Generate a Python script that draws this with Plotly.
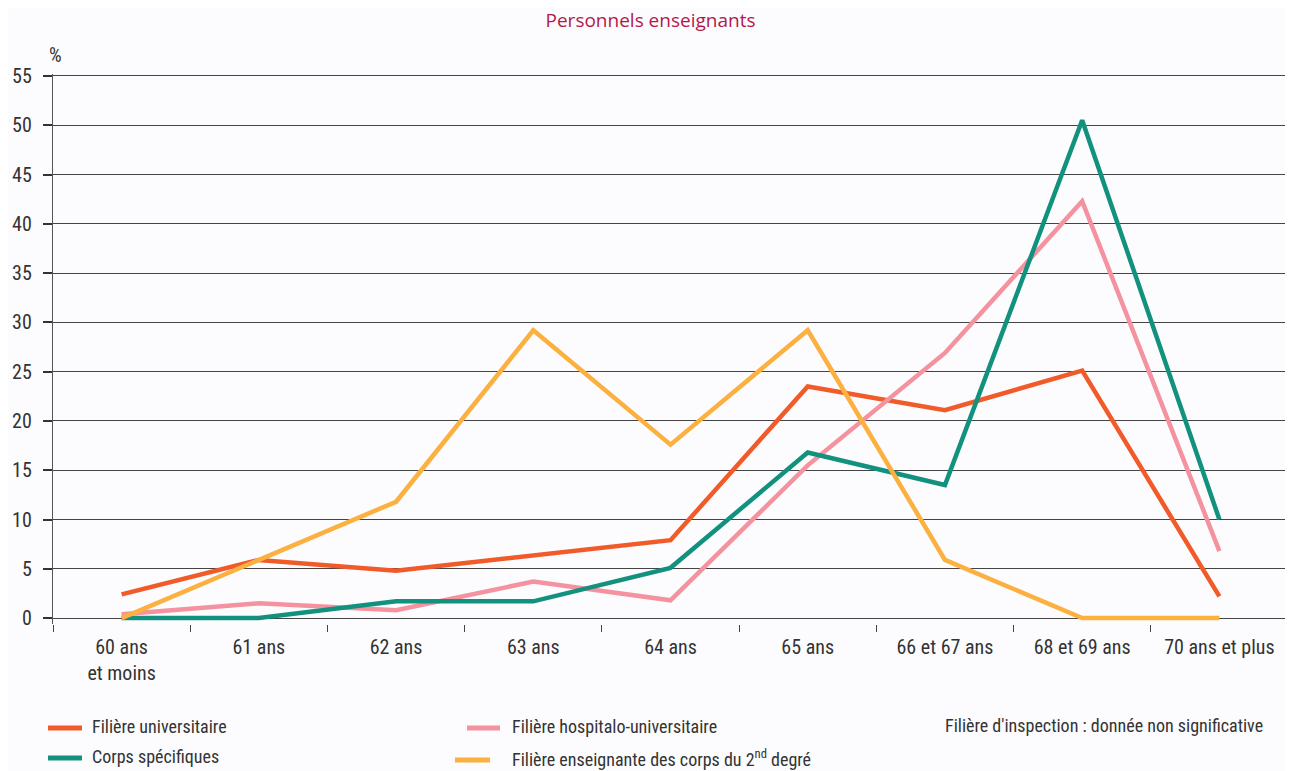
import plotly.graph_objects as go

categories = ["60 ans<br>et moins", "61 ans", "62 ans", "63 ans", "64 ans", "65 ans",
              "66 et 67 ans", "68 et 69 ans", "70 ans et plus"]
universitaire = [2.4, 5.9, 4.8, 6.4, 7.9, 23.5, 21.1, 25.1, 2.2]
hospitalo = [0.4, 1.5, 0.8, 3.7, 1.8, 15.5, 26.9, 42.3, 6.8]
corps_specifiques = [0, 0, 1.7, 1.7, 5.1, 16.8, 13.5, 50.5, 10.0]
second_degre = [0, 5.9, 11.8, 29.2, 17.6, 29.2, 5.9, 0, 0]

series = [
    ("Filière universitaire", universitaire, "#F15A29"),
    ("Filière hospitalo-universitaire", hospitalo, "#F4929F"),
    ("Corps spécifiques", corps_specifiques, "#13917F"),
    ("Filière enseignante des corps du 2<sup>nd</sup> degré", second_degre, "#FBB040"),
]

FONT = "Roboto Condensed, Roboto, sans-serif"
TXT = "#333333"

fig = go.Figure()
for name, vals, col in series:
    fig.add_trace(go.Scatter(x=categories, y=vals, mode="lines", name=name,
                             line=dict(color=col, width=4.5), cliponaxis=False,
                             showlegend=False))

fig.update_layout(
    width=1285, height=763,
    margin=dict(l=45, r=5, t=66, b=147),
    paper_bgcolor="#FCFCFE", plot_bgcolor="#FCFCFE",
    font=dict(family=FONT, size=19, color=TXT),
    title=dict(text="Personnels enseignants", x=0.5, xanchor="center", y=0.9836, yanchor="middle",
               pad=dict(t=0, b=0),
               font=dict(family="Open Sans, sans-serif", size=19, color="#B5174B")),
    xaxis=dict(type="category", range=[-0.5, 8.5], showgrid=False, showline=False,
               ticks="outside", tickson="boundaries", ticklen=7, tickcolor="#444", tickwidth=1.3,
               ticklabelstandoff=9, tickfont=dict(size=20, color=TXT), zeroline=False),
    yaxis=dict(range=[-0.6, 55.2], tickvals=list(range(0, 56, 5)), showgrid=True,
               gridcolor="#444", gridwidth=1, showline=True, linecolor="#555", linewidth=1.3,
               ticks="outside", ticklen=9, tickcolor="#333", tickwidth=1.5,
               ticklabelstandoff=7, tickfont=dict(size=20, color=TXT), zeroline=False),
)

fig.add_annotation(text="%", xref="paper", yref="paper", x=-0.005, y=1.035,
                   xanchor="left", yanchor="middle", showarrow=False, font=dict(size=20, color=TXT))

# legend drawn manually (coordinates in page pixels converted to paper)
leg = [
    ("Filière universitaire", "#F15A29", 48, 82, 90, 726),
    ("Corps spécifiques", "#13917F", 48, 82, 90, 756),
    ("Filière hospitalo-universitaire", "#F4929F", 467, 500, 510, 726),
    ("Filière enseignante des corps du 2<sup>nd</sup> degré", "#FBB040", 455, 490, 510, 758),
]
for text, col, x0, x1, tx, ty in leg:
    fig.add_shape(type="line", xref="paper", yref="paper",
                  x0=(x0 - 53) / 1235, x1=(x1 - 53) / 1235,
                  y0=(624 - ty - 2) / 550, y1=(624 - ty - 2) / 550,
                  line=dict(color=col, width=5))
    fig.add_annotation(text=text, xref="paper", yref="paper", x=(tx - 53) / 1235,
                       y=(624 - ty) / 550, xanchor="left", yanchor="middle", showarrow=False,
                       font=dict(size=18, color=TXT))
fig.add_annotation(text="Filière d'inspection : donnée non significative", xref="paper", yref="paper",
                   x=(1265 - 53) / 1235, y=(624 - 725) / 550, xanchor="right", yanchor="middle",
                   showarrow=False, font=dict(size=18, color=TXT))

fig.write_html("out.html")
